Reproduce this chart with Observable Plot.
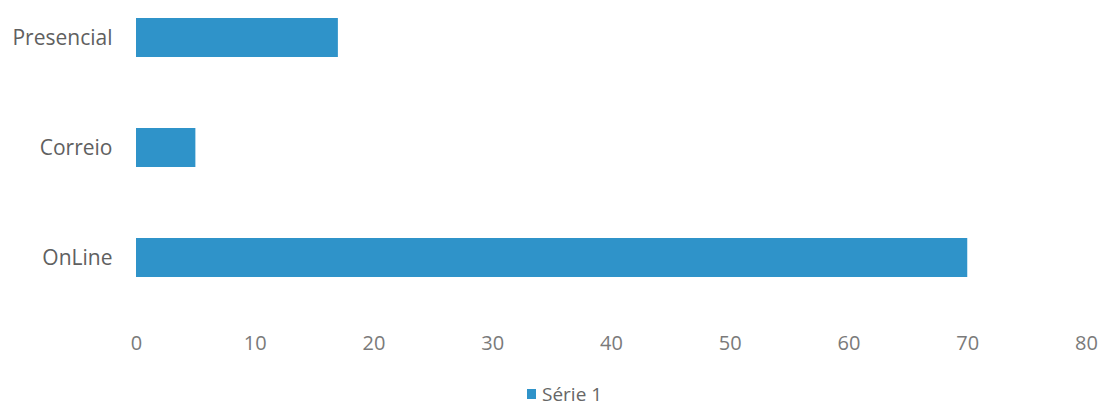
<!DOCTYPE html>
<html><head><meta charset="utf-8">
<script src="https://cdn.jsdelivr.net/npm/d3@7"></script>
<script src="https://cdn.jsdelivr.net/npm/@observablehq/plot@0.6"></script>
<style>
body{margin:0;background:#fff;font-family:"Open Sans",sans-serif;}
#wrap{position:relative;width:1101px;height:406px;overflow:hidden;}
#legend{position:absolute;left:527px;top:381px;font-size:19px;line-height:26px;color:#666;display:flex;align-items:center;gap:6px;}
#legend span.sw{display:inline-block;width:9px;height:10px;background:#2f93c9;}
.yax text{fill:#606060;}
.xax text{fill:#7a7a7a;}
</style></head>
<body><div id="wrap"><div id="chart"></div><div id="legend"><span class="sw"></span><span>Série 1</span></div></div>
<script>
const categories = ["Presencial", "Correio", "OnLine"];
const values = [17, 5, 70];
const xTicks = [0, 10, 20, 30, 40, 50, 60, 70, 80];
const seriesName = "Série 1";

const data = categories.map((c, i) => ({category: c, value: values[i], series: seriesName}));

const chart = Plot.plot({
  width: 1101,
  height: 360,
  marginLeft: 136,
  marginRight: 15,
  marginTop: 0,
  marginBottom: 66,
  style: {fontFamily: "Open Sans, sans-serif", fontSize: "20px", color: "#666", background: "#fff", overflow: "visible"},
  x: {domain: [0, 80], label: null},
  y: {domain: categories, paddingInner: 0.65, paddingOuter: 0.16, label: null},
  marks: [
    Plot.barX(data, {x: "value", y: "category", fill: "#2f93c9"}),
    Plot.axisX(xTicks, {tickSize: 0, tickPadding: 41, fontSize: 20, className: "xax", label: null}),
    Plot.axisY({tickSize: 0, tickPadding: 24, fontSize: 21, className: "yax", label: null})
  ]
});
document.getElementById("chart").appendChild(chart);
</script></body></html>
